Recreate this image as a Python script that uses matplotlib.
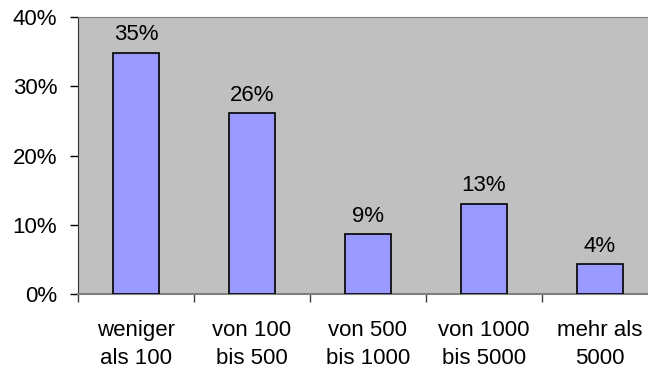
import numpy as np
import matplotlib.pyplot as plt
from matplotlib.ticker import PercentFormatter

categories = ['weniger\nals 100', 'von 100\nbis 500', 'von 500\nbis 1000',
              'von 1000\nbis 5000', 'mehr als\n5000']
shares = [34.8, 26.1, 8.6, 13.0, 4.3]

plt.rcParams['font.family'] = ['Liberation Sans', 'DejaVu Sans']
plt.rcParams['font.size'] = 16

fig = plt.figure(figsize=(6.48, 3.70), dpi=100)
# plot area runs slightly past the right edge of the image
ax = fig.add_axes([78 / 648, 1 - 294 / 370, 580 / 648, 277 / 370])
ax.set_facecolor('#C0C0C0')

x = np.arange(len(categories))
bars = ax.bar(x, shares, width=0.405, color='#9999FF', edgecolor='black',
              linewidth=1.2, zorder=3)

for b, v in zip(bars, shares):
    ax.annotate(f'{v:.0f}%', (b.get_x() + b.get_width() / 2, v),
                xytext=(0, 5.5), textcoords='offset points',
                ha='center', va='bottom', fontsize=16)

ax.set_xlim(-0.5, len(categories) - 0.5)
ax.set_ylim(0, 40)
ax.set_yticks([0, 10, 20, 30, 40])
ax.yaxis.set_major_formatter(PercentFormatter(decimals=0))
ax.tick_params(axis='y', length=6, width=1, color='black', pad=9,
               labelsize=16, direction='out')

ax.set_xticks(x)
ax.set_xticklabels(categories, linespacing=1.4)
ax.set_xticks(np.arange(len(categories) + 1) - 0.5, minor=True)
ax.tick_params(axis='x', which='major', length=0, pad=19, labelsize=16)
ax.tick_params(axis='x', which='minor', length=6, width=1, color='#404040',
               direction='out')

ax.spines['left'].set_color('#303030')
ax.spines['bottom'].set_color('#808080')
ax.spines['bottom'].set_linewidth(1.5)
ax.spines['top'].set_color('#808080')
ax.spines['right'].set_visible(False)

fig.savefig('out.png', dpi=100)
